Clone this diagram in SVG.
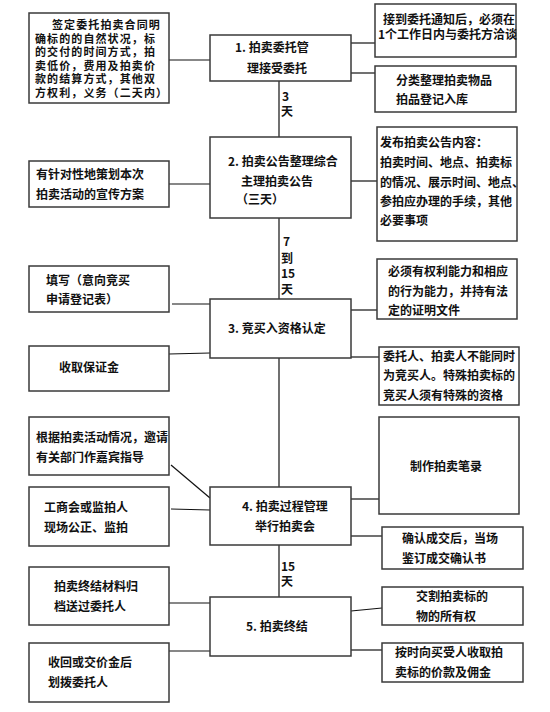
<svg xmlns="http://www.w3.org/2000/svg" width="550" height="712" viewBox="0 0 550 712">
<style>
.b{fill:#fff;stroke:#3a3a3a;stroke-width:1.5}
.t{font-family:"Noto Sans CJK SC","Noto Sans",sans-serif;font-size:12px;font-weight:bold;fill:#111}
.s{font-size:11px;letter-spacing:1.1px}
.c{stroke:#111;stroke-width:1.2;fill:none}
</style>
<rect width="550" height="712" fill="#fff"/>
<g id="connectors">
<line class="c" x1="279" y1="81" x2="279" y2="597"/>
<line class="c" x1="169" y1="60" x2="210" y2="60"/>
<line class="c" x1="351" y1="43" x2="375" y2="43"/>
<line class="c" x1="351" y1="73" x2="375" y2="73"/>
<line class="c" x1="169" y1="184" x2="210" y2="184"/>
<line class="c" x1="351" y1="181" x2="377" y2="181"/>
<line class="c" x1="172" y1="304" x2="210" y2="304"/>
<line class="c" x1="169" y1="354" x2="210" y2="353"/>
<line class="c" x1="351" y1="310" x2="377" y2="310"/>
<line class="c" x1="351" y1="357" x2="379" y2="357"/>
<line class="c" x1="171" y1="465" x2="210" y2="498"/>
<line class="c" x1="171" y1="509" x2="210" y2="510"/>
<line class="c" x1="351" y1="499" x2="379" y2="499"/>
<line class="c" x1="351" y1="536" x2="382" y2="536"/>
<line class="c" x1="169" y1="603" x2="211" y2="603"/>
<line class="c" x1="169" y1="651" x2="210" y2="651"/>
<line class="c" x1="351" y1="611" x2="382" y2="608"/>
<line class="c" x1="351" y1="650" x2="382" y2="650"/>
<text class="t" x="282" y="101">3</text>
<text class="t" x="281" y="116">天</text>
<text class="t" x="283" y="246">7</text>
<text class="t" x="281" y="263">到</text>
<text class="t" x="281" y="278">15</text>
<text class="t" x="281" y="294">天</text>
<text class="t" x="281" y="571">15</text>
<text class="t" x="281" y="586">天</text>
</g>
<g id="n1"><rect class="b" x="210" y="35" width="141" height="46"/>
<text class="t" x="235" y="52">1. 拍卖委托管</text><text class="t" x="247" y="73">理接受委托</text></g>
<g id="n2"><rect class="b" x="210" y="137" width="141" height="81"/>
<text class="t" x="228" y="166">2. 拍卖公告整理综合</text><text class="t" x="241" y="186">主理拍卖公告</text><text class="t" x="236" y="204">（三天）</text></g>
<g id="n3"><rect class="b" x="210" y="299" width="141" height="59"/>
<text class="t" x="228" y="333">3. 竞买入资格认定</text></g>
<g id="n4"><rect class="b" x="210" y="487" width="141" height="58"/>
<text class="t" x="242" y="511">4. 拍卖过程管理</text><text class="t" x="255" y="531">举行拍卖会</text></g>
<g id="n5"><rect class="b" x="210" y="597" width="141" height="59"/>
<text class="t" x="246" y="631">5. 拍卖终结</text></g>
<g id="l1"><rect class="b" x="29" y="13" width="140" height="90"/>
<text class="t s" x="52" y="29">签定委托拍卖合同明</text>
<text class="t s" x="35" y="42.5">确标的的自然状况，标</text>
<text class="t s" x="35" y="56">的交付的时间方式，拍</text>
<text class="t s" x="35" y="69.5">卖低价，费用及拍卖价</text>
<text class="t s" x="35" y="83">款的结算方式，其他双</text>
<text class="t s" x="35" y="96.5">方权利，义务（二天内）</text></g>
<g id="r1"><rect class="b" x="375" y="4" width="141" height="53"/>
<text class="t" x="383" y="24">接到委托通知后，必须在</text><text class="t" x="378" y="39">1个工作日内与委托方洽谈</text></g>
<g id="r2"><rect class="b" x="375" y="66" width="141" height="46"/>
<text class="t" x="396" y="85">分类整理拍卖物品</text><text class="t" x="396" y="104">拍品登记入库</text></g>
<g id="l2"><rect class="b" x="29" y="161" width="140" height="46"/>
<text class="t" x="36" y="179">有针对性地策划本次</text><text class="t" x="36" y="199">拍卖活动的宣传方案</text></g>
<g id="r3"><rect class="b" x="377" y="127" width="140" height="114"/>
<text class="t" x="380" y="147">发布拍卖公告内容：</text>
<text class="t" x="380" y="167">拍卖时间、地点、拍卖标</text>
<text class="t" x="380" y="187">的情况、展示时间、地点、</text>
<text class="t" x="380" y="206">参拍应办理的手续，其他</text>
<text class="t" x="380" y="225">必要事项</text></g>
<g id="l3"><rect class="b" x="29" y="266" width="140" height="46"/>
<text class="t" x="46" y="285">填写（意向竞买</text><text class="t" x="46" y="304">申请登记表）</text></g>
<g id="l4"><rect class="b" x="29" y="346" width="140" height="45"/>
<text class="t" x="59" y="372">收取保证金</text></g>
<g id="r4"><rect class="b" x="377" y="259" width="140" height="60"/>
<text class="t" x="388" y="276">必须有权利能力和相应</text><text class="t" x="388" y="296">的行为能力，并持有法</text><text class="t" x="388" y="315">定的证明文件</text></g>
<g id="r5"><rect class="b" x="379" y="347" width="140" height="58"/>
<text class="t" x="383" y="361">委托人、拍卖人不能同时</text><text class="t" x="383" y="380">为竞买人。特殊拍卖标的</text><text class="t" x="383" y="400">竞买人须有特殊的资格</text></g>
<g id="l5"><rect class="b" x="29" y="417" width="140" height="58"/>
<text class="t" x="36" y="442">根据拍卖活动情况，邀请</text><text class="t" x="36" y="462">有关部门作嘉宾指导</text></g>
<g id="l6"><rect class="b" x="29" y="487" width="140" height="59"/>
<text class="t" x="44" y="512">工商会或监拍人</text><text class="t" x="44" y="532">现场公正、监拍</text></g>
<g id="r6"><rect class="b" x="379" y="417" width="140" height="97"/>
<text class="t" x="410" y="471">制作拍卖笔录</text></g>
<g id="r7"><rect class="b" x="382" y="527" width="141" height="42"/>
<text class="t" x="402" y="543">确认成交后，当场</text><text class="t" x="402" y="563">鉴订成交确认书</text></g>
<g id="l7"><rect class="b" x="29" y="567" width="140" height="58"/>
<text class="t" x="54" y="591">拍卖终结材料归</text><text class="t" x="54" y="611">档送过委托人</text></g>
<g id="l8"><rect class="b" x="29" y="643" width="140" height="59"/>
<text class="t" x="48" y="667">收回或交价金后</text><text class="t" x="48" y="687">划拨委托人</text></g>
<g id="r8"><rect class="b" x="382" y="587" width="141" height="38"/>
<text class="t" x="416" y="601">交割拍卖标的</text><text class="t" x="416" y="621">物的所有权</text></g>
<g id="r9"><rect class="b" x="382" y="643" width="141" height="39"/>
<text class="t" x="395" y="657">按时向买受人收取拍</text><text class="t" x="395" y="677">卖标的价款及佣金</text></g>
</svg>
